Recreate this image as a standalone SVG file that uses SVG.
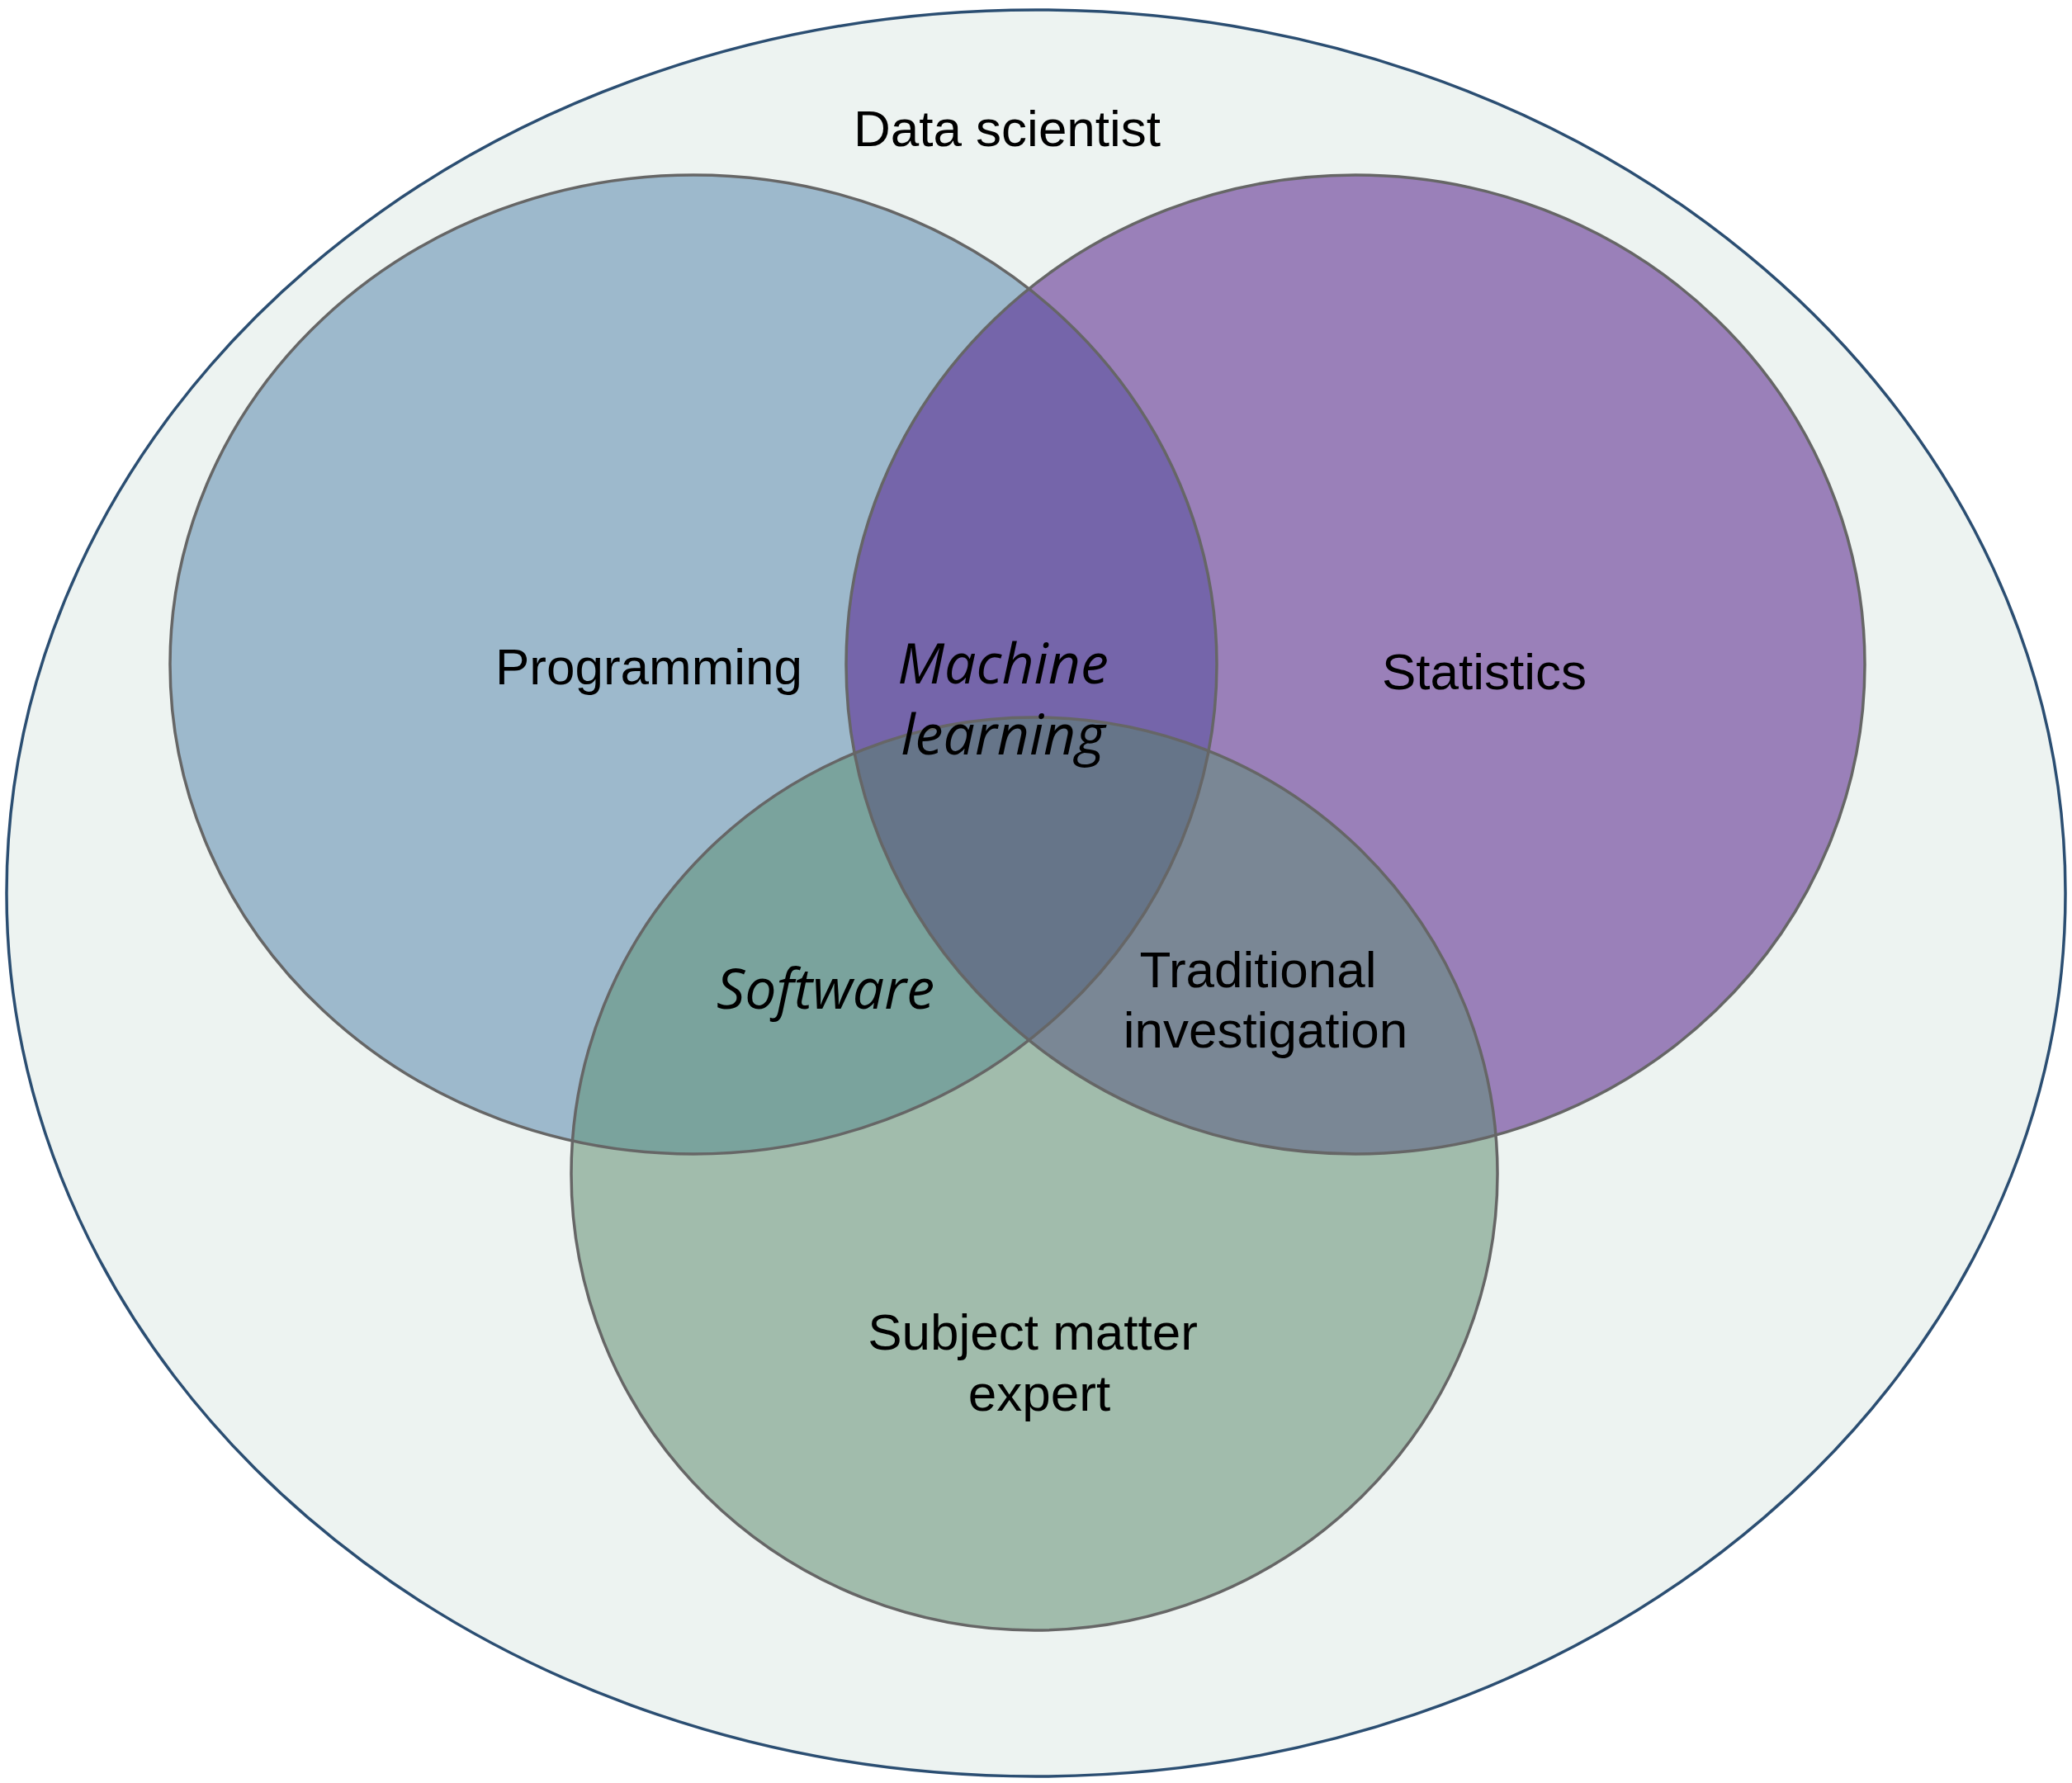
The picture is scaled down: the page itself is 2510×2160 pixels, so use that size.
<svg xmlns="http://www.w3.org/2000/svg" width="2510" height="2160" viewBox="0 0 2510 2160">
<defs>
<style>
.lbl{font-family:"Liberation Sans",Arial,sans-serif;font-size:62px;fill:#000;text-anchor:middle}
.it{font-family:"Open Sans","Liberation Sans",sans-serif;font-style:italic;font-size:68px;fill:#000;text-anchor:middle}
.ring{fill:none;stroke:#666;stroke-width:3.5}
</style>
<clipPath id="cL"><ellipse cx="840" cy="805" rx="634" ry="593"/></clipPath>
<clipPath id="cR"><ellipse cx="1642" cy="805" rx="617" ry="593"/></clipPath>
</defs>
<rect width="2510" height="2160" fill="#fff"/>
<g id="data-scientist">
<ellipse cx="1255" cy="1082" rx="1247" ry="1070" fill="#edf3f1" stroke="#2b4e72" stroke-width="3.5"/>
<text class="lbl" x="1220" y="177">Data scientist</text>
</g>
<g id="programming">
<ellipse cx="840" cy="805" rx="634" ry="593" fill="#9db9cc"/>
</g>
<g id="statistics">
<ellipse cx="1642" cy="805" rx="617" ry="593" fill="#9a80b9"/>
</g>
<g id="machine-learning" clip-path="url(#cL)">
<ellipse cx="1642" cy="805" rx="617" ry="593" fill="#7565aa"/>
</g>
<g id="subject-matter-expert">
<ellipse cx="1253" cy="1422" rx="561" ry="553" fill="#a1bcac"/>
</g>
<g id="software" clip-path="url(#cL)">
<ellipse cx="1253" cy="1422" rx="561" ry="553" fill="#7aa39d"/>
</g>
<g id="traditional-investigation" clip-path="url(#cR)">
<ellipse cx="1253" cy="1422" rx="561" ry="553" fill="#7a8795"/>
</g>
<g id="center" clip-path="url(#cL)">
<g clip-path="url(#cR)">
<ellipse cx="1253" cy="1422" rx="561" ry="553" fill="#667589"/>
</g>
</g>
<g id="outlines">
<ellipse class="ring" cx="840" cy="805" rx="634" ry="593"/>
<ellipse class="ring" cx="1642" cy="805" rx="617" ry="593" stroke="#625a72"/>
<ellipse class="ring" cx="1253" cy="1422" rx="561" ry="553"/>
</g>
<g id="labels">
<text class="lbl" x="786" y="829">Programming</text>
<text class="lbl" x="1798" y="835">Statistics</text>
<text class="it" x="1215" y="828">Machine</text>
<text class="it" x="1215" y="914">learning</text>
<text class="it" x="1000" y="1222">Software</text>
<text class="lbl" x="1524" y="1196">Traditional</text>
<text class="lbl" x="1533" y="1269">investigation</text>
<text class="lbl" x="1251" y="1635">Subject matter</text>
<text class="lbl" x="1259" y="1709">expert</text>
</g>
</svg>
